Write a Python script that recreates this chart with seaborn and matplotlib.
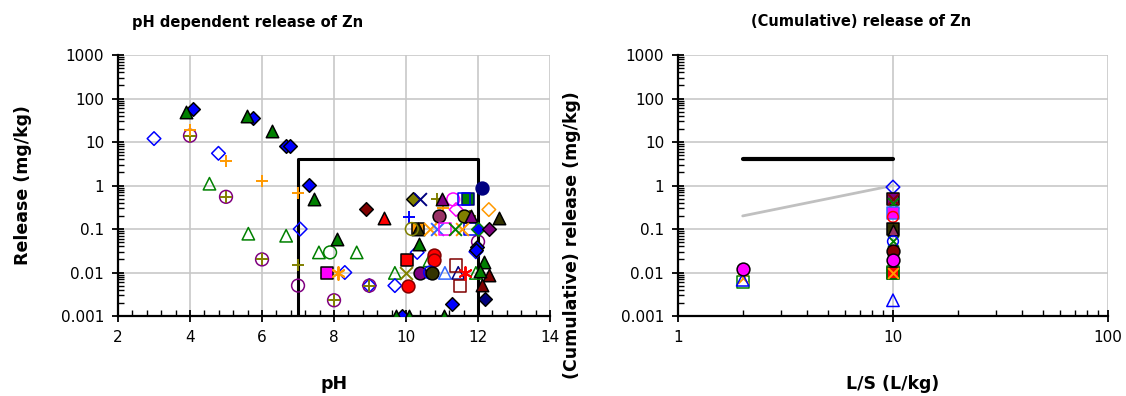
import matplotlib
matplotlib.use("Agg")
import matplotlib.pyplot as plt
import seaborn as sns
import pandas as pd
from matplotlib.ticker import FixedLocator, MultipleLocator, LogLocator, NullFormatter, FuncFormatter

# ---------------- data: left panel (pH vs Zn release, mg/kg) ----------------
ph_blue_dia = [4.09, 5.74, 6.67, 6.78, 7.30, 11.96, 11.94, 11.27, 9.90]
zn_blue_dia = [57, 35, 8.0, 8.0, 1.05, 0.039, 0.033, 0.0019, 0.001]
ph_green_tri = [3.89, 5.57, 6.27, 7.43, 8.07, 10.37, 12.17, 12.05, 9.72, 10.09, 11.06]
zn_green_tri = [50, 40, 18, 0.48, 0.058, 0.045, 0.017, 0.011, 0.001, 0.001, 0.001]
ph_blue_odia = [3.0, 4.79, 7.06, 8.30, 8.98, 9.69, 10.31, 11.94]
zn_blue_odia = [12, 5.5, 0.1, 0.01, 0.005, 0.005, 0.029, 0.03]
ph_orange_plus = [4.0, 5.0, 6.0, 7.0, 11.02]
zn_orange_plus = [19, 3.6, 1.3, 0.68, 0.3]
ph_green_otri = [4.54, 5.62, 6.67, 7.58, 8.63, 9.69, 10.65, 11.94]
zn_green_otri = [1.1, 0.078, 0.07, 0.029, 0.029, 0.0098, 0.019, 0.0098]
ph_purple_ocirc = [4.0, 5.0, 6.0, 8.0, 8.98, 7.0, 12.0]
zn_purple_ocirc = [14, 0.55, 0.02, 0.0023, 0.005, 0.005, 0.051]
ph_olive_plus = [4.0, 5.0, 6.0, 8.0, 8.98, 7.0, 10.85, 11.78]
zn_olive_plus = [14, 0.55, 0.02, 0.0023, 0.005, 0.015, 0.48, 0.2]
ph_green_ocirc = [7.89]
zn_green_ocirc = [0.029]
ph_magenta_sq = [7.80]
zn_magenta_sq = [0.01]
ph_orange_star = [8.10]
zn_orange_star = [0.01]
ph_maroon_dia = [8.90]
zn_maroon_dia = [0.29]
ph_red_tri = [9.40]
zn_red_tri = [0.18]
ph_blue_plus = [10.09]
zn_blue_plus = [0.19]
ph_olive_dia = [10.18]
zn_olive_dia = [0.48]
ph_navy_x = [10.40]
zn_navy_x = [0.48]
ph_purple_tri = [10.99, 11.80]
zn_purple_tri = [0.48, 0.2]
ph_magenta_ocirc = [11.31]
zn_magenta_ocirc = [0.48]
ph_magenta_odia = [11.39]
zn_magenta_odia = [0.28]
ph_blue_osq = [11.60, 11.78]
zn_blue_osq = [0.48, 0.1]
ph_green_sq = [11.72]
zn_green_sq = [0.5]
ph_navy_circ = [12.10]
zn_navy_circ = [0.89]
ph_orange_odia = [12.30]
zn_orange_odia = [0.28]
ph_dkolive_tri = [12.59, 10.33]
zn_dkolive_tri = [0.18, 0.1]
ph_mauve_circ = [10.92]
zn_mauve_circ = [0.2]
ph_olive_circ = [11.60]
zn_olive_circ = [0.2]
ph_olive_ocirc = [10.16]
zn_olive_ocirc = [0.1]
ph_orange_sq = [10.33]
zn_orange_sq = [0.1]
ph_orange_x = [10.67, 11.55]
zn_orange_x = [0.1, 0.1]
ph_blue_x = [10.85]
zn_blue_x = [0.1]
ph_magenta_osq = [11.08]
zn_magenta_osq = [0.1]
ph_green_x = [11.36]
zn_green_x = [0.1]
ph_bluegreen_dia = [12.01]
zn_bluegreen_dia = [0.1]
ph_purple_dia = [12.31]
zn_purple_dia = [0.1]
ph_red_circ = [10.78, 10.78, 10.06]
zn_red_circ = [0.025, 0.019, 0.005]
ph_red_sq = [10.02]
zn_red_sq = [0.0195]
ph_olive_x = [10.0]
zn_olive_x = [0.01]
ph_purple_circ = [10.39]
zn_purple_circ = [0.01]
ph_blue_ocirc = [10.67]
zn_blue_ocirc = [0.01]
ph_dkolive_circ = [10.71]
zn_dkolive_circ = [0.01]
ph_ltblue_otri = [11.08]
zn_ltblue_otri = [0.0098]
ph_navy_otri = [11.45]
zn_navy_otri = [0.0098]
ph_maroon_osq = [11.40, 11.50]
zn_maroon_osq = [0.0145, 0.005]
ph_red_star = [11.64]
zn_red_star = [0.01]
ph_maroon_tri = [12.30, 12.10]
zn_maroon_tri = [0.0087, 0.0051]
ph_navy_dia = [12.20]
zn_navy_dia = [0.0024]

# box of the pH-dependent range
box_ph = [7, 7, 12, 12]
box_zn = [0.001, 4, 4, 0.001]

# ---------------- data: right panel (L/S vs cumulative release) ----------------
ls_blue_odia = [10]
cr_blue_odia = [0.92]
ls_purple_sq = [10]
cr_purple_sq = [0.5]
ls_maroon_x = [10]
cr_maroon_x = [0.5]
ls_green_x = [10, 10]
cr_green_x = [0.4, 0.052]
ls_magenta_sq = [10]
cr_magenta_sq = [0.23]
ls_red_ocirc = [10]
cr_red_ocirc = [0.19]
ls_black_sq = [10]
cr_black_sq = [0.1]
ls_mauve_tri = [10]
cr_mauve_tri = [0.095]
ls_blue_ocirc = [10]
cr_blue_ocirc = [0.052]
ls_maroon_circ = [10]
cr_maroon_circ = [0.031]
ls_magenta_circ = [2, 10]
cr_magenta_circ = [0.012, 0.019]
ls_red_sq = [10]
cr_red_sq = [0.01]
ls_green_osq = [2, 10]
cr_green_osq = [0.006, 0.01]
ls_orange_x = [2, 10]
cr_orange_x = [0.0075, 0.01]
ls_blue_otri = [2, 10]
cr_blue_otri = [0.0068, 0.0023]

limit_ls = [2, 10]
limit_cr = [4, 4]
ref_ls = [2, 10]
ref_cr = [0.2, 1.0]

# ---------------- styles ----------------
BLUE, GREEN, NAVY, MAROON = "#0000FF", "#008000", "#000080", "#800000"
OLIVE, DKOLIVE, PURPLE, MAUVE = "#808000", "#333300", "#800080", "#993366"
MAGENTA, ORANGE, RED, LTBLUE = "#FF00FF", "#FF9900", "#FF0000", "#3366FF"
AST = (6, 2, 0)

DS, TS, CS, SS, PS = 48, 80, 85, 75, 85   # marker areas

left_series = [
    (ph_green_otri, zn_green_otri, "^", "none", GREEN, TS),
    (ph_blue_odia, zn_blue_odia, "D", "none", BLUE, DS),
    (ph_purple_ocirc, zn_purple_ocirc, "o", "none", PURPLE, CS),
    (ph_olive_plus, zn_olive_plus, "+", None, OLIVE, PS),
    (ph_orange_plus, zn_orange_plus, "+", None, ORANGE, PS),
    (ph_green_ocirc, zn_green_ocirc, "o", "none", GREEN, CS),
    (ph_magenta_sq, zn_magenta_sq, "s", MAGENTA, "black", SS),
    (ph_orange_star, zn_orange_star, AST, None, ORANGE, PS),
    (ph_maroon_dia, zn_maroon_dia, "D", MAROON, "black", DS),
    (ph_red_tri, zn_red_tri, "^", RED, "black", TS),
    (ph_blue_plus, zn_blue_plus, "+", None, BLUE, PS),
    (ph_olive_dia, zn_olive_dia, "D", OLIVE, "black", DS),
    (ph_navy_x, zn_navy_x, "x", None, NAVY, PS),
    (ph_magenta_ocirc, zn_magenta_ocirc, "o", "none", MAGENTA, CS),
    (ph_magenta_odia, zn_magenta_odia, "D", "none", MAGENTA, DS),
    (ph_green_sq, zn_green_sq, "s", GREEN, NAVY, SS),
    (ph_blue_osq, zn_blue_osq, "s", "none", BLUE, SS),
    (ph_navy_circ, zn_navy_circ, "o", NAVY, NAVY, CS),
    (ph_orange_odia, zn_orange_odia, "D", "none", ORANGE, DS),
    (ph_orange_sq, zn_orange_sq, "s", ORANGE, "black", SS),
    (ph_dkolive_tri, zn_dkolive_tri, "^", DKOLIVE, "black", TS),
    (ph_mauve_circ, zn_mauve_circ, "o", MAUVE, "black", CS),
    (ph_olive_circ, zn_olive_circ, "o", OLIVE, "black", CS),
    (ph_purple_tri, zn_purple_tri, "^", PURPLE, "black", TS),
    (ph_olive_ocirc, zn_olive_ocirc, "o", "none", OLIVE, CS),
    (ph_orange_x, zn_orange_x, "x", None, ORANGE, PS),
    (ph_blue_x, zn_blue_x, "x", None, LTBLUE, PS),
    (ph_magenta_osq, zn_magenta_osq, "s", "none", MAGENTA, SS),
    (ph_green_x, zn_green_x, "x", None, GREEN, PS),
    (ph_bluegreen_dia, zn_bluegreen_dia, "D", BLUE, GREEN, DS),
    (ph_purple_dia, zn_purple_dia, "D", PURPLE, "black", DS),
    (ph_red_sq, zn_red_sq, "s", RED, "black", SS),
    (ph_red_circ, zn_red_circ, "o", RED, MAROON, CS),
    (ph_olive_x, zn_olive_x, "x", None, OLIVE, PS),
    (ph_purple_circ, zn_purple_circ, "o", PURPLE, "black", CS),
    (ph_blue_ocirc, zn_blue_ocirc, "o", "none", BLUE, CS),
    (ph_dkolive_circ, zn_dkolive_circ, "o", DKOLIVE, "black", CS),
    (ph_ltblue_otri, zn_ltblue_otri, "^", "none", LTBLUE, TS),
    (ph_navy_otri, zn_navy_otri, "^", "none", NAVY, TS),
    (ph_maroon_osq, zn_maroon_osq, "s", "none", MAROON, SS),
    (ph_red_star, zn_red_star, AST, None, RED, PS),
    (ph_maroon_tri, zn_maroon_tri, "^", MAROON, "black", TS),
    (ph_navy_dia, zn_navy_dia, "D", NAVY, "black", DS),
    (ph_blue_dia, zn_blue_dia, "D", BLUE, "black", DS),
    (ph_green_tri, zn_green_tri, "^", GREEN, "black", TS),
]

right_series = [
    (ls_blue_odia, cr_blue_odia, "D", "none", BLUE, DS),
    (ls_purple_sq, cr_purple_sq, "s", PURPLE, "black", SS),
    (ls_maroon_x, cr_maroon_x, "x", None, MAROON, 60),
    (ls_green_x, cr_green_x, "x", None, GREEN, 60),
    (ls_magenta_sq, cr_magenta_sq, "s", MAGENTA, LTBLUE, SS),
    (ls_red_ocirc, cr_red_ocirc, "o", "none", RED, 60),
    (ls_black_sq, cr_black_sq, "s", DKOLIVE, "black", SS),
    (ls_mauve_tri, cr_mauve_tri, "^", MAUVE, "black", 60),
    (ls_blue_ocirc, cr_blue_ocirc, "o", "none", BLUE, 60),
    (ls_maroon_circ, cr_maroon_circ, "o", MAROON, "black", CS),
    (ls_red_sq, cr_red_sq, "s", RED, "black", SS),
    (ls_green_osq, cr_green_osq, "s", "none", GREEN, SS),
    (ls_orange_x, cr_orange_x, "x", None, ORANGE, 60),
    (ls_blue_otri, cr_blue_otri, "^", "none", BLUE, TS),
    (ls_magenta_circ, cr_magenta_circ, "o", MAGENTA, "black", CS),
]


def draw(ax, series):
    for xs, ys, mk, face, edge, size in series:
        df = pd.DataFrame({"x": xs, "y": ys})
        if face is None:
            sns.scatterplot(data=df, x="x", y="y", ax=ax, marker=mk, s=size,
                            color=edge, linewidth=1.4, zorder=3)
        else:
            sns.scatterplot(data=df, x="x", y="y", ax=ax, marker=mk, s=size,
                            facecolor=face, edgecolor=edge, linewidth=1.1,
                            zorder=3)


sns.set_style("white")
plt.rcParams["font.family"] = ["DejaVu Sans"]
plt.rcParams["text.color"] = "black"
plt.rcParams["axes.labelcolor"] = "black"

fig = plt.figure(figsize=(11.26, 3.96), dpi=100)
ax1 = fig.add_axes([0.1048, 0.202, 0.3837, 0.659])
ax2 = fig.add_axes([0.6021, 0.202, 0.3819, 0.659])

GRID = "#C8C8C8"
for ax in (ax1, ax2):
    ax.set_yscale("log")
    ax.set_ylim(0.001, 1000)
    ax.grid(True, which="major", color=GRID, linewidth=1.2, zorder=0)
    ax.set_axisbelow(True)
    for side in ("top", "right"):
        ax.spines[side].set_visible(False)
    for side in ("left", "bottom"):
        ax.spines[side].set_color("black")
        ax.spines[side].set_linewidth(1.6)
    ax.yaxis.set_major_locator(FixedLocator([0.001, 0.01, 0.1, 1, 10, 100, 1000]))
    ax.yaxis.set_major_formatter(FuncFormatter(lambda v, p: f"{v:g}"))
    ax.yaxis.set_minor_locator(LogLocator(base=10, subs=range(2, 10), numticks=20))
    ax.yaxis.set_minor_formatter(NullFormatter())

# left panel
draw(ax1, left_series)
sns.lineplot(x=box_ph, y=box_zn, ax=ax1, sort=False, estimator=None,
             color="black", linewidth=2.2, zorder=2)
ax1.set_xlim(2, 14)
ax1.xaxis.set_major_locator(MultipleLocator(2))
ax1.xaxis.set_minor_locator(MultipleLocator(0.4))
ax1.set_xlabel("pH", fontsize=12.5, fontweight="bold", color="black")
ax1.set_ylabel("Release (mg/kg)", fontsize=12.5, fontweight="bold", color="black")
ax1.xaxis.set_label_coords(0.5, -0.225)
ax1.yaxis.set_label_coords(-0.2, 0.5)

# right panel
sns.lineplot(x=ref_ls, y=ref_cr, ax=ax2, color="#C0C0C0", linewidth=2, zorder=2)
sns.lineplot(x=limit_ls, y=limit_cr, ax=ax2, color="black", linewidth=3, zorder=2)
draw(ax2, right_series)
ax2.set_xscale("log")
ax2.set_xlim(1, 100)
ax2.xaxis.set_major_locator(FixedLocator([1, 10, 100]))
ax2.xaxis.set_major_formatter(FuncFormatter(lambda v, p: f"{v:g}"))
ax2.xaxis.set_minor_locator(LogLocator(base=10, subs=range(2, 10), numticks=20))
ax2.xaxis.set_minor_formatter(NullFormatter())
ax2.set_xlabel("L/S (L/kg)", fontsize=12.5, fontweight="bold", color="black")
ax2.set_ylabel("(Cumulative) release (mg/kg)", fontsize=12.5, fontweight="bold",
               color="black")
ax2.xaxis.set_label_coords(0.5, -0.225)
ax2.yaxis.set_label_coords(-0.225, 0.31)

for ax in (ax1, ax2):
    ax.tick_params(which="major", direction="inout", length=8, width=1.3,
                   labelsize=11, colors="black", pad=6, left=True, bottom=True)
    ax.tick_params(which="minor", direction="in", length=4, width=1.0,
                   colors="black", left=True, bottom=True)

fig.text(248 / 1126, 1 - 22 / 396, "pH dependent release of Zn",
         ha="center", va="center", fontsize=10.5, fontweight="bold", color="black")
fig.text(861 / 1126, 1 - 22 / 396, "(Cumulative) release of Zn",
         ha="center", va="center", fontsize=10.5, fontweight="bold", color="black")

fig.savefig("out.png", dpi=100)
